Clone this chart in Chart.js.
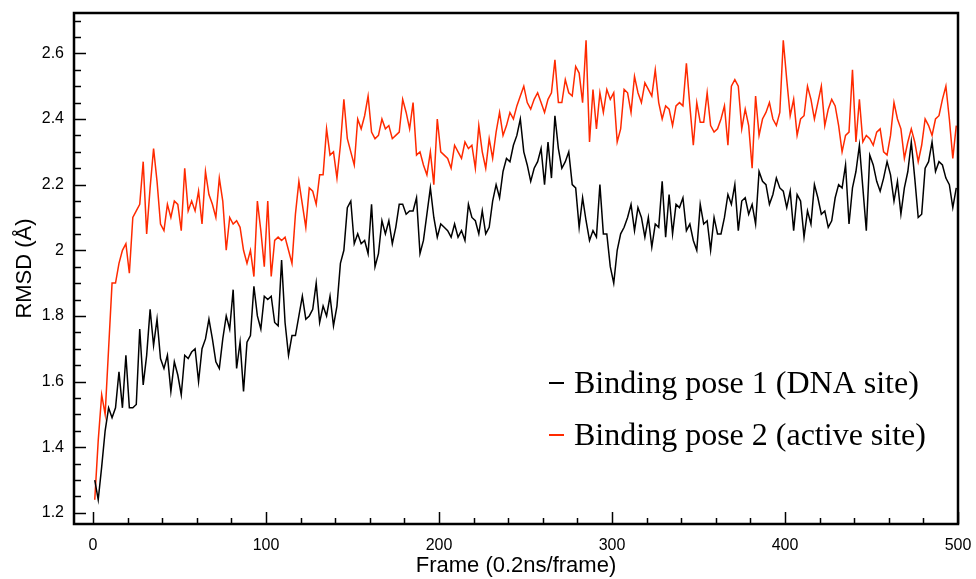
<!DOCTYPE html>
<html><head><meta charset="utf-8">
<script src="https://cdn.jsdelivr.net/npm/chart.js@4"></script>
<style>html,body{margin:0;padding:0;background:#fff}#wrap{width:976px;height:579px}</style>
</head><body><div id="wrap"><canvas id="c" width="976" height="579"></canvas></div>
<script>
const seriesNames = ['Binding pose 1 (DNA site)', 'Binding pose 2 (active site)'];
const seriesColors = ['#000000', '#ff2a00'];
const firstFrame = 1;
const frameStep = 2;
const pose1 = [
1.30,1.24,1.34,1.45,1.52,1.49,1.52,1.63,1.52,1.68, 1.52,1.52,1.53,1.76,1.59,1.68,1.82,1.71,1.79,1.67,
1.64,1.68,1.57,1.66,1.62,1.56,1.68,1.67,1.69,1.70, 1.60,1.70,1.73,1.79,1.73,1.66,1.64,1.73,1.80,1.76,
1.88,1.64,1.72,1.57,1.72,1.74,1.89,1.80,1.76,1.86, 1.85,1.86,1.78,1.77,1.97,1.78,1.68,1.74,1.74,1.80,
1.86,1.79,1.80,1.82,1.90,1.78,1.83,1.80,1.86,1.77, 1.83,1.96,2.00,2.13,2.15,2.02,2.05,2.02,2.03,1.99,
2.14,
1.95,1.99,2.09,2.05,2.09,2.02,2.07,2.14,2.14,2.11, 2.12,2.12,2.16,1.99,2.03,2.11,2.19,2.10,2.04,2.08,
2.07,2.06,2.04,2.08,2.04,2.06,2.03,2.14,2.10,2.09, 2.05,2.12,2.05,2.07,2.15,2.20,2.16,2.24,2.28,2.27,
2.32,2.35,2.40,
2.30,2.26,2.21,2.25,2.27,2.31,2.20,2.33,2.22,2.41, 2.31,2.25,2.27,2.30,2.20,2.19,2.07,2.16,2.09,2.03,
2.06,2.04,2.20,2.05,2.05,1.95,1.90,2.00,2.05,2.07, 2.10,2.14,2.06,2.13,2.10,2.04,2.10,2.01,2.08,2.07,
2.21,2.04,
2.17,2.05,2.14,2.13,2.16,2.06,2.08,2.03,2.00,2.14, 2.08,2.09,2.00,2.10,2.05,2.05,2.10,2.17,2.14,2.20,
2.06,2.15,2.16,2.11,2.14,2.08,2.24,2.21,2.20,2.14, 2.17,2.22,2.19,2.18,2.13,2.18,2.06,2.17,2.15,2.04,
2.12,2.08,2.20,
2.16,2.11,2.12,2.07,2.09,2.16,2.20,2.19,2.26,2.08, 2.19,2.24,2.32,2.19,2.06,2.29,2.26,2.21,2.18,2.22,
2.27,2.23,2.15,2.21,2.11,2.19,2.24,2.33,2.22,2.10, 2.11,2.25,2.27,2.33,2.24,2.27,2.26,2.22,2.20,2.13,
2.19
];
const pose2 = [
1.24,1.42,1.56,1.50,1.70,1.90,1.90,1.96,2.00,2.02, 1.93,2.10,2.12,2.14,2.27,2.05,2.19,2.31,2.21,2.08,
2.06,2.14,2.10,2.15,2.14,2.06,2.25,2.12,2.15,2.12, 2.18,2.08,2.24,2.17,2.14,2.10,2.22,2.15,2.00,2.10,
2.08,2.09,2.07,2.00,1.96,2.00,1.92,2.15,2.06,1.95, 2.15,1.92,2.03,2.04,2.03,2.04,2.00,1.96,2.11,2.21,
2.14,2.07,2.19,2.18,2.14,2.23,2.23,2.37,2.29,2.30, 2.22,2.32,2.46,2.34,2.30,2.26,2.40,2.37,2.41,2.47,
2.36,
2.34,2.35,2.40,2.37,2.38,2.34,2.35,2.36,2.46,2.42, 2.37,2.45,2.29,2.30,2.26,2.23,2.30,2.20,2.40,2.30,
2.29,2.28,2.25,2.32,2.30,2.28,2.33,2.31,2.32,2.25, 2.38,2.30,2.25,2.34,2.28,2.36,2.42,2.35,2.38,2.42,
2.40,2.44,2.47,
2.50,2.45,2.43,2.46,2.48,2.45,2.42,2.46,2.48,2.58, 2.45,2.45,2.52,2.48,2.47,2.56,2.54,2.45,2.64,2.33,
2.49,2.37,2.48,2.42,2.49,2.46,2.48,2.33,2.37,2.49, 2.48,2.42,2.53,2.48,2.45,2.51,2.49,2.47,2.55,2.45,
2.40,2.44,
2.43,2.38,2.44,2.45,2.44,2.57,2.44,2.32,2.45,2.39, 2.39,2.48,2.38,2.36,2.37,2.40,2.44,2.32,2.50,2.52,
2.50,2.37,2.43,2.38,2.25,2.47,2.35,2.40,2.42,2.45, 2.40,2.38,2.42,2.64,2.52,2.41,2.46,2.35,2.40,2.41,
2.50,2.46,2.40,
2.45,2.50,2.38,2.43,2.46,2.44,2.38,2.30,2.35,2.36, 2.55,2.33,2.46,2.33,2.35,2.34,2.32,2.36,2.37,2.30,
2.29,2.35,2.45,2.40,2.37,2.28,2.33,2.37,2.33,2.27, 2.32,2.40,2.38,2.35,2.40,2.41,2.46,2.50,2.40,2.28,
2.38
];
const xMajorTicks = [0, 100, 200, 300, 400, 500];
const yMajorTicks = [1.2, 1.4, 1.6, 1.8, 2, 2.2, 2.4, 2.6];
const xTitle = 'Frame (0.2ns/frame)';
const yTitle = 'RMSD (Å)';

const frames = pose1.map((_, i) => firstFrame + i * frameStep);
const toPoints = arr => arr.map((v, i) => ({x: frames[i], y: v}));
const isMajor = (v, list) => list.some(m => Math.abs(m - v) < 1e-6);

const axisFont = {family: '"Liberation Sans", Arial, sans-serif', size: 16};
const titleFont = {family: '"Liberation Sans", Arial, sans-serif', size: 22};

const framePlugin = {
  id: 'framePlugin',
  afterDraw(chart) {
    const {ctx, chartArea: a, scales: {x, y}} = chart;
    ctx.save();
    ctx.strokeStyle = '#000';
    ctx.lineWidth = 1.5;
    x.ticks.forEach(t => {
      const px = Math.round(x.getPixelForValue(t.value)) + 0.5;
      const len = isMajor(t.value, xMajorTicks) ? 12 : 6;
      ctx.beginPath(); ctx.moveTo(px, a.bottom); ctx.lineTo(px, a.bottom - len); ctx.stroke();
    });
    y.ticks.forEach(t => {
      const py = Math.round(y.getPixelForValue(t.value)) + 0.5;
      const len = isMajor(t.value, yMajorTicks) ? 12 : 7;
      ctx.beginPath(); ctx.moveTo(a.left, py); ctx.lineTo(a.left + len, py); ctx.stroke();
    });
    ctx.lineWidth = 2.5;
    ctx.strokeRect(a.left, a.top, a.right - a.left, a.bottom - a.top);
    // legend
    ctx.font = '32px "Liberation Serif", "Times New Roman", serif';
    ctx.textBaseline = 'alphabetic';
    ctx.textAlign = 'left';
    const lx = a.left + 475, baseY = [393, 445];
    chart.data.datasets.forEach((ds, i) => {
      ctx.strokeStyle = ds.borderColor;
      ctx.lineWidth = 2;
      ctx.beginPath(); ctx.moveTo(lx, baseY[i] - 10); ctx.lineTo(lx + 15, baseY[i] - 10); ctx.stroke();
      ctx.fillStyle = '#000';
      ctx.fillText(ds.label, lx + 25, baseY[i]);
    });
    ctx.restore();
  }
};

new Chart(document.getElementById('c'), {
  type: 'line',
  data: {
    datasets: [
      {label: seriesNames[0], data: toPoints(pose1), borderColor: seriesColors[0], borderWidth: 1.5, pointRadius: 0, tension: 0, fill: false},
      {label: seriesNames[1], data: toPoints(pose2), borderColor: seriesColors[1], borderWidth: 1.5, pointRadius: 0, tension: 0, fill: false}
    ]
  },
  options: {
    responsive: false,
    animation: false,
    devicePixelRatio: 1,
    layout: {padding: {top: 13, right: 18, left: 0, bottom: 0}},
    plugins: {legend: {display: false}, tooltip: {enabled: false}},
    scales: {
      x: {
        type: 'linear', min: -11, max: 500,
        grid: {display: false, drawTicks: false},
        border: {display: false},
        ticks: {
          stepSize: 20, includeBounds: false, autoSkip: false, maxRotation: 0,
          color: '#000', font: axisFont, padding: 12,
          callback: v => isMajor(v, xMajorTicks) ? String(v) : ''
        },
        title: {display: true, text: xTitle, color: '#000', font: titleFont, padding: {top: 0, bottom: 0}},
        afterFit: s => { s.height = 55; s.paddingLeft = 0; s.paddingRight = 0; }
      },
      y: {
        type: 'linear', min: 1.166, max: 2.723,
        grid: {display: false, drawTicks: false},
        border: {display: false},
        ticks: {
          stepSize: 0.05, includeBounds: false, autoSkip: false,
          color: '#000', font: axisFont, padding: 10,
          callback: v => isMajor(v, yMajorTicks) ? String(+v.toFixed(1)) : ''
        },
        title: {display: true, text: yTitle, color: '#000', font: titleFont, padding: {top: 12, bottom: 0}},
        afterFit: s => { s.width = 74; s.paddingTop = 0; s.paddingBottom = 0; }
      }
    }
  },
  plugins: [framePlugin]
});
</script>
</body></html>
